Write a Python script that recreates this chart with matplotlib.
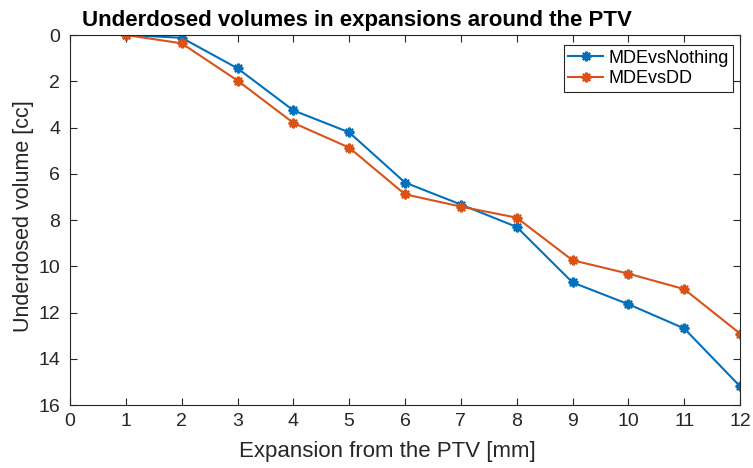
import matplotlib
matplotlib.use("Agg")
import matplotlib.pyplot as plt

plt.rcParams['font.family'] = ['Liberation Sans', 'DejaVu Sans']

expansion = [1, 2, 3, 4, 5, 6, 7, 8, 9, 10, 11, 12]
mde_vs_nothing = [0.0, 0.12, 1.44, 3.26, 4.21, 6.38, 7.33, 8.30, 10.70, 11.64, 12.69, 15.19]
mde_vs_dd = [0.0, 0.36, 1.97, 3.80, 4.87, 6.89, 7.42, 7.90, 9.74, 10.32, 10.99, 12.91]
xticks = list(range(0, 13))
yticks = list(range(0, 17, 2))

TXT = '#262626'
fig = plt.figure(figsize=(7.53, 4.68), dpi=100)
ax = fig.add_axes([70/753, 1-405/468, 670/753, 370/468])

asterisk = (8, 2, 0)
ax.plot(expansion, mde_vs_nothing, color='#0072BD', marker=asterisk, markersize=7,
        markeredgewidth=1.6, lw=1.5, label='MDEvsNothing')
ax.plot(expansion, mde_vs_dd, color='#D95319', marker=asterisk, markersize=7,
        markeredgewidth=1.6, lw=1.5, label='MDEvsDD')

ax.set_xlim(0, 12)
ax.set_ylim(16, 0)
ax.set_xticks(xticks)
ax.set_yticks(yticks)
ax.tick_params(direction='in', labelsize=14, colors=TXT, length=5, top=True, right=True)
ax.tick_params(axis='x', pad=6)
ax.tick_params(axis='y', pad=7)
for s in ax.spines.values():
    s.set_color(TXT)
    s.set_linewidth(0.8)

ax.set_xlabel('Expansion from the PTV [mm]', fontsize=16, color=TXT)
ax.xaxis.set_label_coords((387.5-70)/670, (405-441)/370)
ax.set_ylabel('Underdosed volume [cc]', fontsize=15.5, color=TXT)
ax.yaxis.set_label_coords((34-70)/670, (405-216)/370)
ax.set_title('Underdosed volumes in expansions around the PTV', fontsize=16,
             fontweight='bold', color='black', x=(357-70)/670, y=(405-26)/370, pad=0)

leg = ax.legend(loc='upper right', bbox_to_anchor=((733-70)/670, (405-45)/370),
                fontsize=13, fancybox=False, edgecolor=TXT, framealpha=1,
                borderaxespad=0, handlelength=1.9, borderpad=0.25, labelspacing=0.2,
                handletextpad=0.3)
leg.get_frame().set_linewidth(0.8)
for t in leg.get_texts():
    t.set_color('black')

fig.savefig('out.png', dpi=100)
